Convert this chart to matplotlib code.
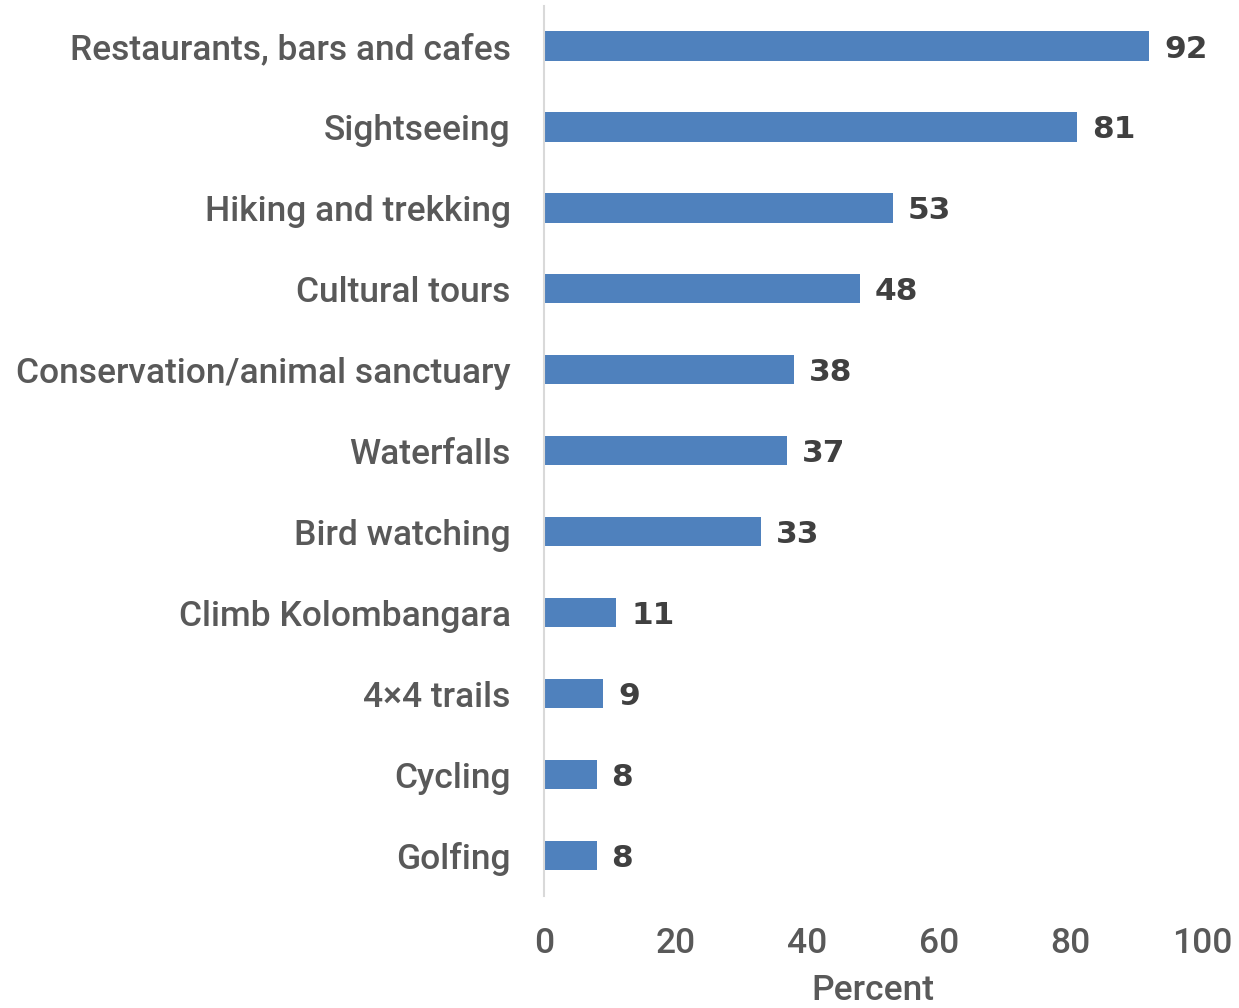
import matplotlib
matplotlib.use("Agg")
import matplotlib.pyplot as plt

# Activities and share of respondents (percent)
activities = [
    "Restaurants, bars and cafes",
    "Sightseeing",
    "Hiking and trekking",
    "Cultural tours",
    "Conservation/animal sanctuary",
    "Waterfalls",
    "Bird watching",
    "Climb Kolombangara",
    "4\u00d74 trails",
    "Cycling",
    "Golfing",
]
percent = [92, 81, 53, 48, 38, 37, 33, 11, 9, 8, 8]
xticks = [0, 20, 40, 60, 80, 100]

label_font = ["Roboto", "DejaVu Sans"]
value_font = ["DejaVu Sans"]
gray = "#595959"

fig = plt.figure(figsize=(12.39, 10.08), dpi=100)
ax = fig.add_axes([0.439, 0.111, 0.531, 0.8835])

ypos = list(range(len(activities)))[::-1]
ax.barh(ypos, percent, height=0.36, color="#4f81bd")

for y, v in zip(ypos, percent):
    ax.annotate(str(v), xy=(v, y), xytext=(15, 0), textcoords="offset pixels",
                va="center_baseline", ha="left", fontsize=22.5, color="#404040",
                family=value_font, fontweight="bold")

ax.set_xlim(0, 100)
ax.set_ylim(-0.5, len(activities) - 0.5)
ax.set_yticks(ypos)
ax.set_yticklabels(activities, family=label_font, fontsize=25.5, color=gray,
                   fontweight=500)
ax.set_xticks(xticks)
ax.set_xticklabels([str(t) for t in xticks], family=label_font, fontsize=25.5,
                   color=gray, fontweight=500)
ax.tick_params(axis="both", length=0)
ax.tick_params(axis="y", pad=24)
ax.tick_params(axis="x", pad=22)
ax.set_xlabel("Percent", family=label_font, fontsize=25.5, color=gray,
              fontweight=500, labelpad=10)

for s in ["top", "right", "bottom"]:
    ax.spines[s].set_visible(False)
ax.spines["left"].set_color("#d9d9d9")
ax.spines["left"].set_linewidth(1.5)

fig.savefig("out.png", dpi=100)
